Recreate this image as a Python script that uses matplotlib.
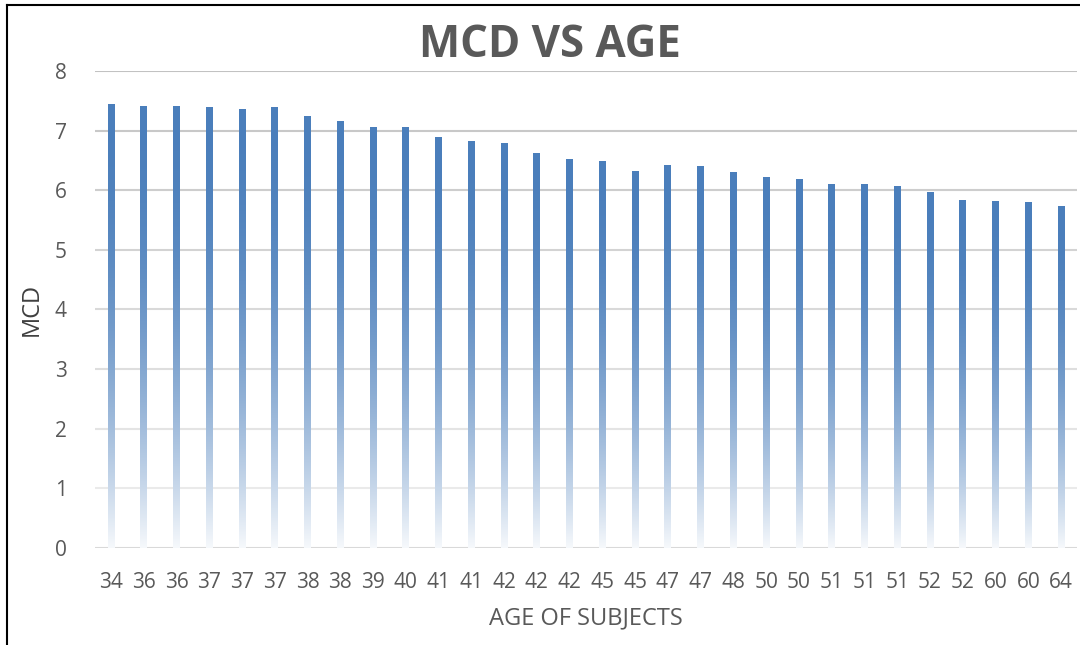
import numpy as np
import matplotlib
matplotlib.use("Agg")
import matplotlib.pyplot as plt
from matplotlib.colors import to_rgb
from matplotlib.lines import Line2D

ages = ["34", "36", "36", "37", "37", "37", "38", "38", "39", "40",
        "41", "41", "42", "42", "42", "45", "45", "47", "47", "48",
        "50", "50", "51", "51", "51", "52", "52", "60", "60", "64"]
mcd = [7.43, 7.40, 7.40, 7.38, 7.36, 7.38, 7.23, 7.16, 7.06, 7.06,
       6.89, 6.81, 6.78, 6.61, 6.52, 6.48, 6.31, 6.42, 6.39, 6.29,
       6.22, 6.18, 6.10, 6.10, 6.07, 5.97, 5.83, 5.81, 5.79, 5.73]
yticks = [0, 1, 2, 3, 4, 5, 6, 7, 8]

plt.rcParams['font.family'] = ['Open Sans', 'DejaVu Sans']

fig = plt.figure(figsize=(10.8, 6.45), dpi=100)
ax = fig.add_axes([0.0876, 0.1504, 0.91, 0.7396])

x = np.arange(len(ages))
bars = ax.bar(x, mcd, width=0.21, color='none', edgecolor='none', zorder=3)

top = np.array(to_rgb('#4a7ebb'))
white = np.array([1.0, 1.0, 1.0])
t = np.linspace(0, 1, 256)
w = 0.95 * t ** 2.1
cols = top[None, :] * (1 - w[:, None]) + white[None, :] * w[:, None]
grad = cols[:, None, :]  # row 0 = top
for b in bars:
    x0 = b.get_x()
    ax.imshow(grad, extent=(x0, x0 + b.get_width(), 0, b.get_height()),
              aspect='auto', origin='upper', zorder=3, interpolation='bilinear')

ax.set_xlim(-0.5, len(ages) - 0.5)
ax.set_ylim(0, 8)

# gridlines darkening toward the top
for v in yticks:
    if v == 0:
        c = '#d9d9d9'
    else:
        f = v / 8.0
        g = 0.94 - (0.94 - 0.76) * f
        c = (g, g, g)
    ax.axhline(v, color=c, lw=1.5, zorder=1)

for s in ax.spines.values():
    s.set_visible(False)

ax.set_yticks(yticks)
ax.set_xticks(x)
ax.set_xticklabels(ages)
ax.tick_params(axis='both', length=0, labelsize=15, labelcolor='#595959')
ax.tick_params(axis='y', pad=20)
ax.tick_params(axis='x', pad=17)

ax.set_ylabel('MCD', fontsize=17, color='#404040', labelpad=8)
ax.set_xlabel('AGE OF SUBJECTS', fontsize=17, color='#595959', labelpad=10)

fig.text(0.509, 0.930, 'MCD VS AGE', fontsize=31.5, fontweight='bold',
         color='#595959', ha='center', va='center')

# border lines (top & left)
fig.add_artist(Line2D([7 / 1080, 7 / 1080], [0, 1 - 5 / 645], transform=fig.transFigure,
                      color='black', lw=1.5))
fig.add_artist(Line2D([7 / 1080, 1], [1 - 5 / 645, 1 - 5 / 645], transform=fig.transFigure,
                      color='black', lw=1.5))

fig.savefig('out.png', dpi=100)
